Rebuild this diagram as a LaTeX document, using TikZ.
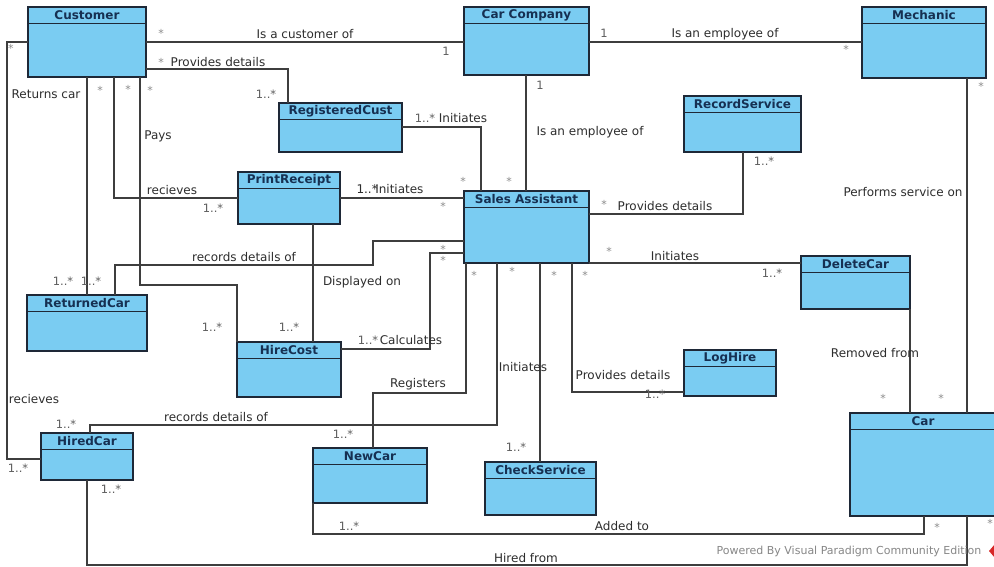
\documentclass[tikz,border=0pt]{standalone}
\usepackage{fontspec}
\setmainfont{DejaVu Sans}
\usetikzlibrary{calc}

\definecolor{clsfill}{RGB}{122,204,242}
\definecolor{clsedge}{RGB}{30,40,55}
\definecolor{clstitle}{RGB}{22,48,82}
\definecolor{wire}{RGB}{62,62,62}
\definecolor{txt}{RGB}{45,45,45}
\definecolor{multcol}{RGB}{95,95,95}
\definecolor{starcol}{RGB}{140,140,140}
\definecolor{wmark}{RGB}{135,135,135}
\definecolor{logored}{RGB}{215,40,40}

\tikzset{
  umlbox/.style={draw=clsedge, fill=clsfill, line width=1.1pt, inner sep=0pt, outer sep=0pt},
  hdr/.style={draw=clsedge, line width=0.9pt},
  umltitle/.style={font=\fontsize{12}{14}\selectfont\bfseries, text=clstitle, inner sep=0pt},
  assoc/.style={draw=wire, line width=1.1pt},
  lbl/.style={font=\fontsize{12}{14}\selectfont, text=txt, inner sep=0pt},
  mul/.style={font=\fontsize{11.5}{13}\selectfont, text=multcol, inner sep=0pt},
  mstar/.style={font=\fontsize{11}{13}\selectfont, text=starcol, inner sep=0pt},
}

% class box: name, left, top, width, height, title
\newcommand\umlclass[6]{%
  \node[umlbox, minimum width=#4pt, minimum height=#5pt, anchor=north west] (#1) at (#2,#3) {};
  \draw[hdr] ($(#1.north west)+(0,16)$) -- ($(#1.north east)+(0,16)$);
  \node[umltitle] (#1-t) at ($(#1.north)+(0,8.5)$) {#6};
}

\begin{document}
\begin{tikzpicture}[x=1pt, y=-1pt]
  \useasboundingbox (0,0) rectangle (994,566);
  \fill[white] (0,0) rectangle (994,566);

  % classes
  \umlclass{cust}{28}{7}{118}{70}{Customer}
  \umlclass{comp}{464}{7}{125}{68}{Car Company}
  \umlclass{mech}{862}{7}{124}{71}{Mechanic}
  \umlclass{recsvc}{684}{96}{117}{56}{RecordService}
  \umlclass{regc}{279}{103}{123}{49}{RegisteredCust}
  \umlclass{print}{238}{172}{102}{52}{PrintReceipt}
  \umlclass{sales}{464}{191}{125}{72}{Sales Assistant}
  \umlclass{retcar}{27}{295}{120}{56}{ReturnedCar}
  \umlclass{hire}{237}{342}{104}{55}{HireCost}
  \umlclass{del}{801}{256}{109}{53}{DeleteCar}
  \umlclass{log}{684}{350}{92}{46}{LogHire}
  \umlclass{hired}{41}{433}{92}{47}{HiredCar}
  \umlclass{newcar}{313}{448}{114}{55}{NewCar}
  \umlclass{check}{485}{462}{111}{53}{CheckService}
  \umlclass{car}{850}{413}{146}{103}{Car}

  % associations
  \draw[assoc] (cust.east |- 0,42) -- (comp.west |- 0,42);
  \draw[assoc] (comp.east |- 0,42) -- (mech.west |- 0,42);
  \draw[assoc] (cust.west |- 0,42) -- (7,42) -- (7,459) -- (hired.west |- 0,459);
  \draw[assoc] (87,0 |- cust.south) -- (87,0 |- retcar.north);
  \draw[assoc] (114,0 |- cust.south) -- (114,198) -- (print.west |- 0,198);
  \draw[assoc] (140,0 |- cust.south) -- (140,285) -- (237,285) -- (hire.north west);
  \draw[assoc] (cust.east |- 0,69) -- (288,69) -- (288,0 |- regc.north);
  \draw[assoc] (regc.east |- 0,127) -- (481,127) -- (481,0 |- sales.north);
  \draw[assoc] (526,0 |- comp.south) -- (526,0 |- sales.north);
  \draw[assoc] (print.east |- 0,198) -- (sales.west |- 0,198);
  \draw[assoc] (313,0 |- print.south) -- (313,0 |- hire.north);
  \draw[assoc] (115,0 |- retcar.north) -- (115,265) -- (373,265) -- (373,241) -- (sales.west |- 0,241);
  \draw[assoc] (hire.east |- 0,349) -- (430,349) -- (430,253) -- (sales.west |- 0,253);
  \draw[assoc] (sales.east |- 0,214) -- (743,214) -- (743,0 |- recsvc.south);
  \draw[assoc] (sales.east |- 0,263) -- (del.west |- 0,263);
  \draw[assoc] (466,0 |- sales.south) -- (466,393) -- (373,393) -- (373,0 |- newcar.north);
  \draw[assoc] (497,0 |- sales.south) -- (497,425) -- (90,425) -- (90,0 |- hired.north);
  \draw[assoc] (540,0 |- sales.south) -- (540,0 |- check.north);
  \draw[assoc] (572,0 |- sales.south) -- (572,392) -- (log.west |- 0,392);
  \draw[assoc] (967,0 |- mech.south) -- (967,0 |- car.north);
  \draw[assoc] (del.south east) -- (910,0 |- car.north);
  \draw[assoc] (newcar.south west) -- (313,534) -- (924,534) -- (924,0 |- car.south);
  \draw[assoc] (87,0 |- hired.south) -- (87,565) -- (967,565) -- (967,0 |- car.south);

  % association names
  \node[lbl] (n1) at (305,34) {Is a customer of};
  \node[lbl] (n2) at (725,34) {Is an employee of};
  \node[lbl] (n3) at (46,94) {Returns car};
  \node[lbl] (n4) at (218,62) {Provides details};
  \node[lbl] (n5) at (158,136) {Pays};
  \node[lbl] (n6) at (172,190) {recieves};
  \node[lbl] (n7) at (463,118) {Initiates};
  \node[lbl] (n8) at (590,132) {Is an employee of};
  \node[lbl] (n9) at (390,189) {1..*\kern-2.5pt Initiates};
  \node[lbl] (n10) at (244,257) {records details of};
  \node[lbl] (n11) at (362,282) {Displayed on};
  \node[lbl] (n12) at (411,340) {Calculates};
  \node[lbl] (n13) at (665,206) {Provides details};
  \node[lbl] (n14) at (903,192) {Performs service on};
  \node[lbl] (n15) at (675,256) {Initiates};
  \node[lbl] (n16) at (875,353) {Removed from};
  \node[lbl] (n17) at (418,384) {Registers};
  \node[lbl] (n18) at (523,367) {Initiates};
  \node[lbl] (n19) at (623,375) {Provides details};
  \node[lbl] (n20) at (34,399) {recieves};
  \node[lbl] (n21) at (216,417) {records details of};
  \node[lbl] (n22) at (622,526) {Added to};
  \node[lbl] (n23) at (526,558) {Hired from};

  % multiplicities
  \node[mstar] (m1) at (161,33) {*};
  \node[mul] (m2) at (446,51) {1};
  \node[mul] (m3) at (604,33) {1};
  \node[mstar] (m4) at (846,49) {*};
  \node[mstar] (m5) at (11,48) {*};
  \node[mstar] (m6) at (161,62) {*};
  \node[mul] (m7) at (266,94) {1..*};
  \node[mstar] (m8) at (100,90) {*};
  \node[mstar] (m9) at (128,89) {*};
  \node[mstar] (m10) at (150,90) {*};
  \node[mul] (m11) at (213,208) {1..*};
  \node[mul] (m12) at (425,118) {1..*};
  \node[mstar] (m13) at (463,181) {*};
  \node[mstar] (m14) at (509,181) {*};
  \node[mul] (m15) at (540,85) {1};
  \node[mstar] (m17) at (443,206) {*};
  \node[mstar] (m18) at (443,249) {*};
  \node[mstar] (m19) at (443,260) {*};
  \node[mul] (m20) at (212,327) {1..*};
  \node[mul] (m21) at (289,327) {1..*};
  \node[mul] (m22) at (368,340) {1..*};
  \node[mul] (m23) at (63,281) {1..*};
  \node[mul] (m24) at (91,281) {1..*};
  \node[mstar] (m25) at (604,204) {*};
  \node[mul] (m26) at (764,161) {1..*};
  \node[mstar] (m27) at (981,86) {*};
  \node[mstar] (m28) at (609,251) {*};
  \node[mul] (m29) at (772,273) {1..*};
  \node[mstar] (m30) at (474,275) {*};
  \node[mstar] (m31) at (512,271) {*};
  \node[mstar] (m32) at (554,275) {*};
  \node[mstar] (m33) at (585,275) {*};
  \node[mstar] (m34) at (883,398) {*};
  \node[mstar] (m35) at (941,398) {*};
  \node[mul] (m36) at (343,434) {1..*};
  \node[mul] (m37) at (516,447) {1..*};
  \node[mul] (m38) at (655,394) {1..*};
  \node[mul] (m39) at (66,424) {1..*};
  \node[mul] (m40) at (18,468) {1..*};
  \node[mul] (m41) at (111,489) {1..*};
  \node[mul] (m42) at (349,526) {1..*};
  \node[mstar] (m43) at (937,527) {*};
  \node[mstar] (m44) at (990,523) {*};

  % edition watermark
  \node[font=\fontsize{11}{13}\selectfont, text=wmark, inner sep=0pt] (wm) at (849,551) {Powered By Visual Paradigm Community Edition};
  \fill[logored] (989,551) -- (995,544) -- (1001,551) -- (995,558) -- cycle;
\end{tikzpicture}
\end{document}
